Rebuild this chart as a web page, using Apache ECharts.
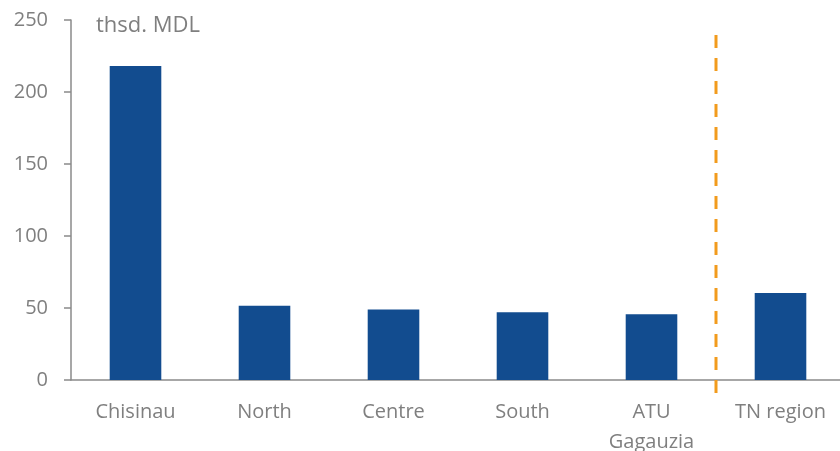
<!DOCTYPE html>
<html>
<head>
<meta charset="utf-8">
<script src="https://cdn.jsdelivr.net/npm/echarts@6/dist/echarts.min.js"></script>
<style>
  html, body { margin: 0; padding: 0; background: #ffffff; }
  #chart { width: 840px; height: 451px; }
</style>
</head>
<body>
<div id="chart"></div>
<script>
// Average values by region, thsd. MDL
const categories = ['Chisinau', 'North', 'Centre', 'South', 'ATU\nGagauzia', 'TN region'];
const values = [218, 51.5, 49, 47, 45.6, 60.4];
const yTicks = [0, 50, 100, 150, 200, 250];
// Separator between the right bank regions and the TN region (category boundary index, value span)
const separatorAt = 5;
const separatorSpan = [-9, 242];

const FONT = '"Open Sans", "Liberation Sans", sans-serif';
const GREY = '#7f7f7f';

const chart = echarts.init(document.getElementById('chart'), null, { renderer: 'canvas' });
chart.setOption({
  animation: false,
  backgroundColor: '#ffffff',
  textStyle: { fontFamily: FONT },
  grid: { left: 71, top: 20, width: 774, height: 360, containLabel: false, outerBoundsMode: 'none' },
  graphic: [{
    type: 'text',
    left: 96,
    top: 15,
    style: { text: 'thsd. MDL', fill: GREY, font: '22px ' + FONT }
  }],
  xAxis: [{
    type: 'category',
    data: categories,
    axisLine: { lineStyle: { color: '#8a8a8a', width: 1.5 } },
    axisTick: { show: false },
    axisLabel: { color: GREY, fontSize: 20, fontFamily: FONT, margin: 17, lineHeight: 30 }
  }, {
    type: 'value',
    min: 0,
    max: categories.length,
    show: false
  }],
  yAxis: {
    type: 'value',
    min: yTicks[0],
    max: yTicks[yTicks.length - 1],
    interval: 50,
    splitLine: { show: false },
    axisLine: { show: true, lineStyle: { color: '#8a8a8a', width: 1.5 } },
    axisTick: { show: true, length: 7, lineStyle: { color: '#8a8a8a', width: 1.5 } },
    axisLabel: { color: GREY, fontSize: 20, fontFamily: FONT, margin: 23 }
  },
  series: [{
    type: 'bar',
    data: values,
    barWidth: '40%',
    itemStyle: { color: '#124c8f' }
  }, {
    type: 'line',
    xAxisIndex: 1,
    clip: false,
    symbol: 'none',
    data: [[separatorAt, separatorSpan[0]], [separatorAt, separatorSpan[1]]],
    lineStyle: { color: '#f29b1d', width: 3, type: [13, 10] },
    z: 5
  }]
});
</script>
</body>
</html>
